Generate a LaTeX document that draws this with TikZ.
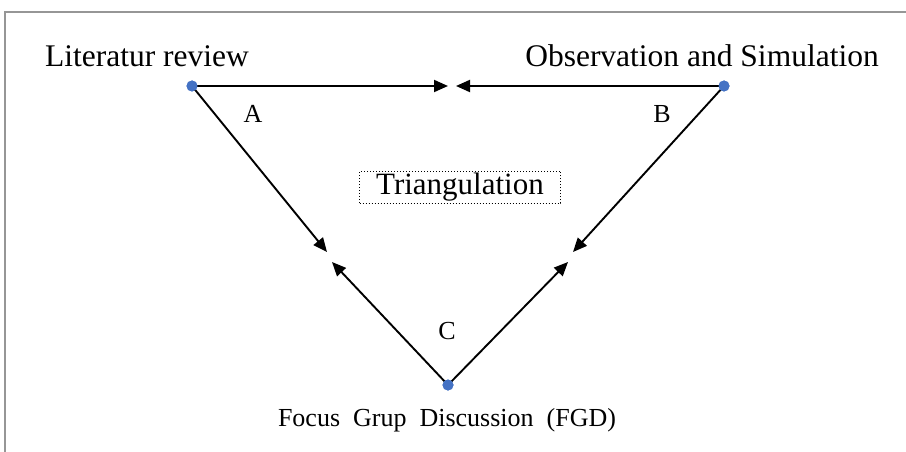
\documentclass[tikz,border=0pt]{standalone}
\usepackage{fontspec}
\setmainfont{Liberation Serif}
\usetikzlibrary{arrows.meta}
\definecolor{dotblue}{RGB}{68,114,196}
\definecolor{framegray}{RGB}{150,150,150}
\begin{document}
\begin{tikzpicture}[x=1pt,y=-1pt,
  lbl/.style={inner sep=0pt,font=\fontsize{31.5}{34}\selectfont},
  letter/.style={inner sep=0pt,font=\fontsize{26}{30}\selectfont},
  dotnode/.style={circle,fill=dotblue,inner sep=0pt,minimum size=11pt},
  conn/.style={line width=1.9pt,-{Triangle[length=14pt,width=12pt]}},
  frame/.style={draw=framegray,line width=1.8pt}]
\useasboundingbox (0,0) rectangle (906,452);
\draw[frame] (5,452) -- (5,12) -- (906,12);
% dots
\node[dotnode] (A) at (192,86) {};
\node[dotnode] (B) at (724,86) {};
\node[dotnode] (C) at (448,385) {};
% free ends
\coordinate (tA) at (448,86);
\coordinate (tB) at (456,86);
\coordinate (lA) at (327,252);
\coordinate (lB) at (573,252);
\coordinate (uL) at (332,262);
\coordinate (uR) at (568,262);
\draw[conn] (A.center) -- (tA);
\draw[conn] (B.center) -- (tB);
\draw[conn] (A.center) -- (lA);
\draw[conn] (B.center) -- (lB);
\draw[conn] (C.center) -- (uL);
\draw[conn] (C.center) -- (uR);
\node[dotnode] at (A) {};
\node[dotnode] at (B) {};
\node[dotnode] at (C) {};
% labels
\node[lbl] (litlbl) at (147,56) {Literatur review};
\node[lbl] (obslbl) at (702,56) {Observation and Simulation};
\node[letter] (la) at (253,114) {A};
\node[letter] (lb) at (662,114) {B};
\node[letter] (lc) at (447,331) {C};
\node[draw,dotted,line width=1pt,minimum width=201pt,minimum height=32pt,inner sep=0pt,
  font=\fontsize{31}{34}\selectfont] (tri) at (460,187) {Triangulation};
\node[inner sep=0pt,font=\fontsize{26}{30}\selectfont] (fgd) at (447,420)
  {Focus\ \ Grup\ \ Discussion\ \ (FGD)};
\end{tikzpicture}
\end{document}
